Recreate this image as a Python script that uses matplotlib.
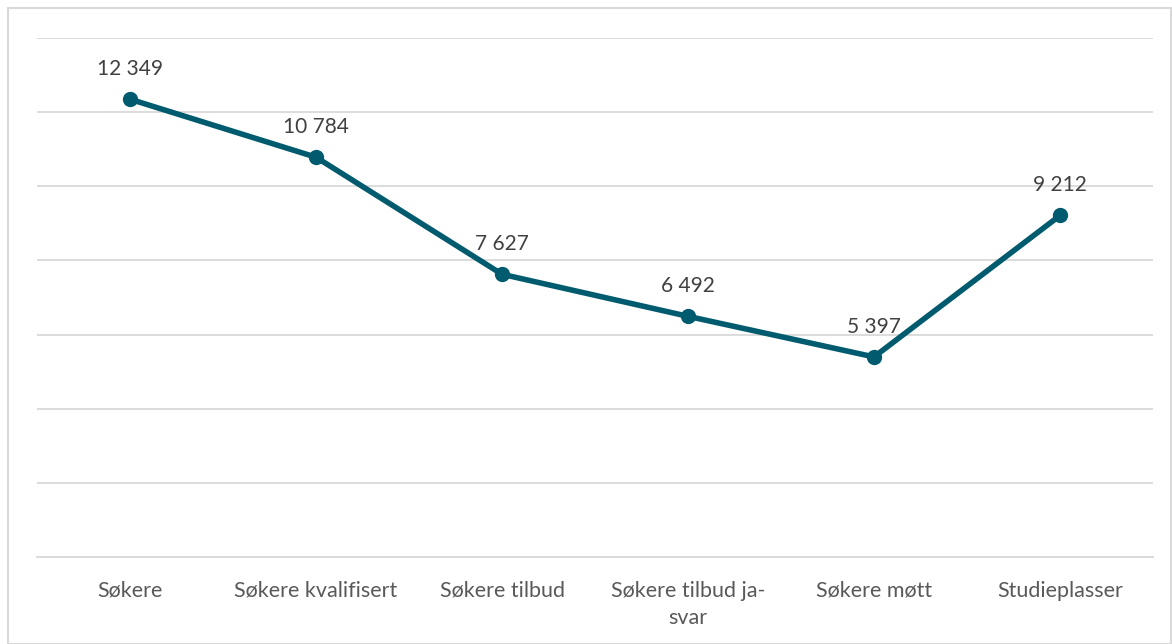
import matplotlib.pyplot as plt
from matplotlib.patches import Rectangle

# Data
categories = ["Søkere", "Søkere kvalifisert", "Søkere tilbud", "Søkere tilbud ja-\nsvar",
              "Søkere møtt", "Studieplasser"]
values = [12349, 10784, 7627, 6492, 5397, 9212]
value_labels = ["12 349", "10 784", "7 627", "6 492", "5 397", "9 212"]

plt.rcParams["font.family"] = ["Lato", "DejaVu Sans"]

fig = plt.figure(figsize=(11.72, 6.44), dpi=100)
ax = fig.add_axes([37 / 1172, 1 - 557 / 644, (1153 - 37) / 1172, (557 - 38) / 644])

x = list(range(len(categories)))
ax.plot(x, values, color="#005B6E", lw=4, marker="o", ms=10, solid_capstyle="round", zorder=3)

for xi, v, lab in zip(x, values, value_labels):
    ax.annotate(lab, (xi, v), xytext=(0, 14.5), textcoords="offset points",
                ha="center", va="bottom", fontsize=15, color="#404040")

ax.set_xlim(-0.5, len(categories) - 0.5)
ax.set_ylim(0, 14000)
ax.set_yticks(range(0, 14001, 2000))
ax.yaxis.grid(True, color="#D9D9D9", lw=1.3)
ax.set_axisbelow(True)
ax.tick_params(axis="y", left=False, labelleft=False)
ax.set_xticks(x)
ax.set_xticklabels(categories, fontsize=15.5, color="#595959", linespacing=1.45)
ax.tick_params(axis="x", length=0, pad=17)
for s in ["top", "right", "left"]:
    ax.spines[s].set_visible(False)
ax.spines["bottom"].set_color("#D9D9D9")
ax.spines["bottom"].set_linewidth(1.3)

# outer chart border
fig.patches.append(Rectangle((8 / 1172, 0), 1 - 9 / 1172, 1 - 8 / 644, transform=fig.transFigure,
                             fill=False, edgecolor="#D9D9D9", lw=1.5))

fig.savefig("out.png", dpi=100)
